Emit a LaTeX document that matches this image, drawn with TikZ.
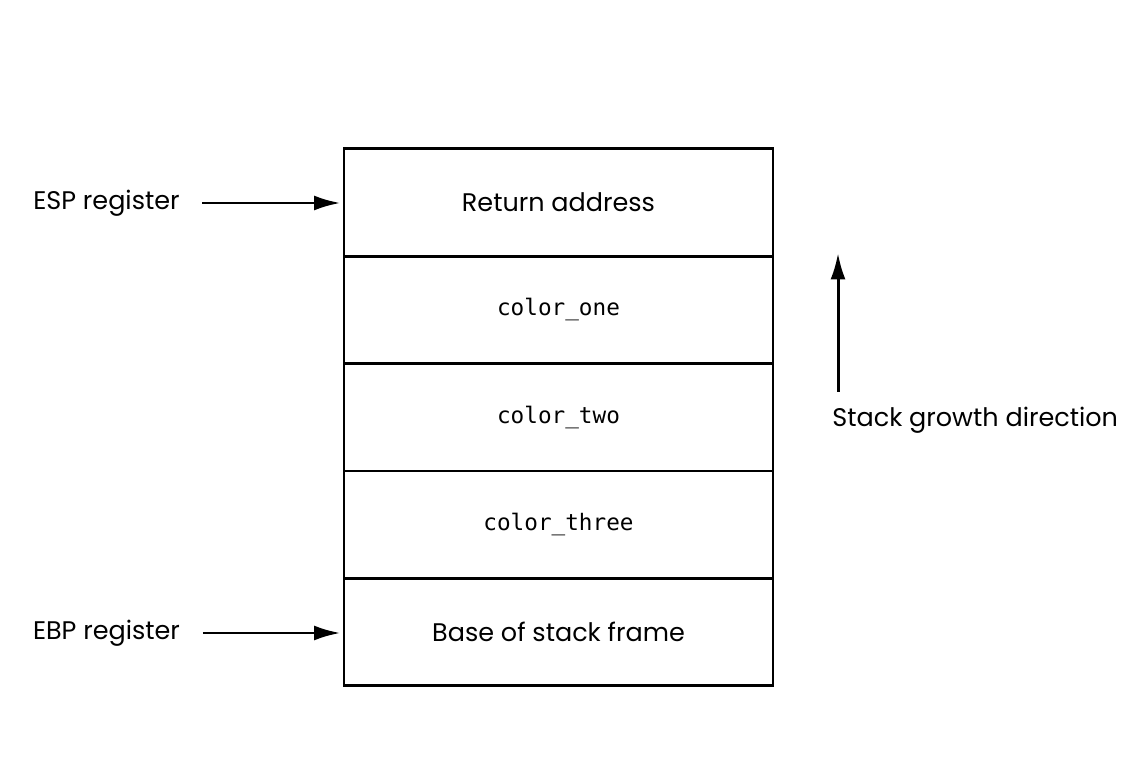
\documentclass[tikz,border=0pt]{standalone}
\usepackage{fontspec}
\setmainfont{Poppins}
\setmonofont{DejaVu Sans Mono}
\usetikzlibrary{arrows.meta}
\usetikzlibrary{positioning}

\tikzset{
  cell/.style={draw, line width=1.5pt, minimum width=8.58cm, minimum height=2.148cm,
               inner sep=0pt, outer sep=0pt, font=\fontsize{14.5}{16}\selectfont},
  reglabel/.style={font=\fontsize{14.5}{16}\selectfont, inner sep=0pt},
  pointer/.style={line width=1.7pt, -{Latex[length=15pt, width=8.5pt]}}
}

\begin{document}
\begin{tikzpicture}
    % Frame to ensure alignment:
    \useasboundingbox (0.00, 0.00) rectangle (22.86, 15.18);
    % Stack frame
    \node[cell] (ret) at (11.17, 11.13) {Return address};
    \node[cell, below=0pt of ret]   (one)   {\texttt{\fontsize{12.9}{14}\selectfont color\_one}};
    \node[cell, below=0pt of one]   (two)   {\texttt{\fontsize{12.9}{14}\selectfont color\_two}};
    \node[cell, below=0pt of two]   (three) {\texttt{\fontsize{12.9}{14}\selectfont color\_three}};
    \node[cell, below=0pt of three] (base)  {Base of stack frame};
    % Registers
    \node[reglabel] (esp) at (2.13, 11.12) {ESP register};
    \node[reglabel] (ebp) at (2.13,  2.52) {EBP register};
    \draw[pointer, shorten <=0.45cm, shorten >=2pt] (esp.east) -- (esp.east -| ret.west);
    \draw[pointer, shorten <=0.45cm, shorten >=2pt] (ebp.east) -- (ebp.east -| base.west);
    % Growth direction
    \node[reglabel, anchor=west] (growth) at (16.64, 6.78) {Stack growth direction};
    \coordinate (up) at (16.76, 10.12);
    \draw[pointer, shorten <=0.3cm] (growth.north west -| up) -- (up);
\end{tikzpicture}
\end{document}
